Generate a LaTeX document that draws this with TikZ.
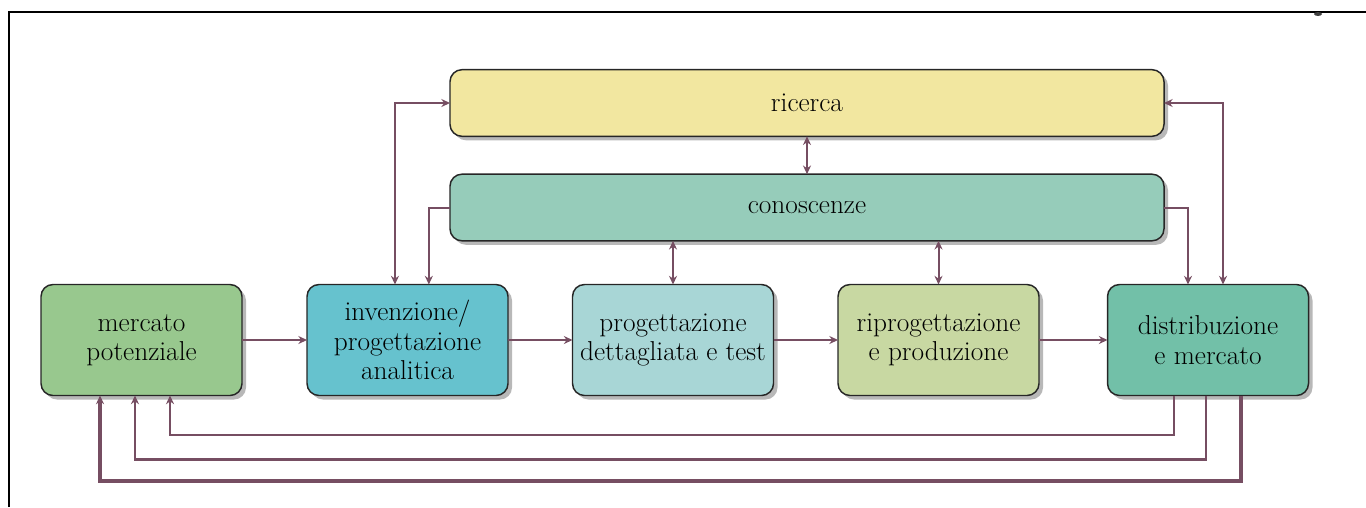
\documentclass[tikz,border=0pt]{standalone}
\usetikzlibrary{arrows.meta,shadows}

\definecolor{flowcol}{RGB}{118,78,98}
\definecolor{ricercacol}{RGB}{242,231,160}
\definecolor{conosccol}{RGB}{150,204,186}
\definecolor{mercatocol}{RGB}{152,200,142}
\definecolor{invcol}{RGB}{102,194,206}
\definecolor{progcol}{RGB}{168,214,214}
\definecolor{riprogcol}{RGB}{200,216,162}
\definecolor{distrcol}{RGB}{114,192,168}

\tikzset{every picture/.style={line width=0.75pt}}
\tikzset{
  stagebox/.style={draw=black!85, line width=1.1pt, rounded corners=9pt, align=center,
    inner sep=0pt, outer sep=0pt, text=black, font=\fontsize{20.5}{22}\selectfont,
    minimum width=150.75pt, minimum height=83.25pt,
    drop shadow={shadow xshift=3pt, shadow yshift=-3pt, fill=black, opacity=0.28}},
  widebox/.style={stagebox, minimum width=535.5pt, minimum height=50pt},
  flowtip/.tip={Stealth[length=6.5pt,width=6pt]},
  flow/.style={draw=flowcol, line width=1.5pt, -flowtip},
  flowboth/.style={flow, flowtip-flowtip},
}

\begin{document}
\begin{tikzpicture}[x=0.75pt,y=0.75pt,yscale=-1,xscale=1]
\useasboundingbox (0,0) rectangle (1366,507);

%Frame
\draw [line width=1.5pt] (9,507) -- (9,12) -- (1366,12) ;
\fill [black!75] (1318,14) ellipse [x radius=4, y radius=2] ;

%Rounded Rect
\node [widebox, fill=ricercacol] (ricerca) at (807,103) {ricerca};
\node [widebox, fill=conosccol] (conosc) at (807,207.5) {conoscenze};
\node [stagebox, fill=mercatocol] (mercato) at (141.5,340) {mercato\\potenziale};
\node [stagebox, fill=invcol] (invenz) at (407.5,340) {invenzione/\\progettazione\\analitica};
\node [stagebox, fill=progcol] (progdett) at (673,340) {progettazione\\dettagliata e test};
\node [stagebox, fill=riprogcol] (riprog) at (938.5,340) {riprogettazione\\e produzione};
\node [stagebox, fill=distrcol] (distr) at (1208,340) {distribuzione\\e mercato};

%Straight Lines
\draw [flow] (mercato) -- (invenz) ;
\draw [flow] (invenz) -- (progdett) ;
\draw [flow] (progdett) -- (riprog) ;
\draw [flow] (riprog) -- (distr) ;

%Straight Lines
\draw [flowboth] (ricerca) -- (conosc) ;
\draw [flowboth] (conosc.south -| progdett.north) -- (progdett) ;
\draw [flowboth] (conosc.south -| riprog.north) -- (riprog) ;
\draw [flowboth] (ricerca.west) -| ([xshift=-9.4pt]invenz.north) ;
\draw [flow] (conosc.west) -| ([xshift=16pt]invenz.north) ;
\draw [flowboth] (ricerca.east) -| ([xshift=11.25pt]distr.north) ;
\draw [flow] (conosc.east) -| ([xshift=-15pt]distr.north) ;

%Feedback Lines
\draw [flow] ([xshift=-25.5pt]distr.south) -- ++(0,39) -| ([xshift=21.4pt]mercato.south) ;
\draw [flow, line width=2pt] ([xshift=-1.5pt]distr.south) -- ++(0,64) -| ([xshift=-4.9pt]mercato.south) ;
\draw [flow, line width=3pt] ([xshift=24.75pt]distr.south) -- ++(0,85) -| ([xshift=-31.1pt]mercato.south) ;

\end{tikzpicture}
\end{document}
